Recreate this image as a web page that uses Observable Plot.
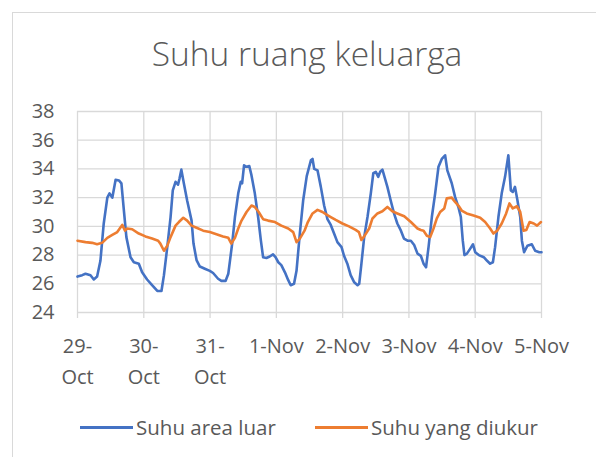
<!DOCTYPE html>
<html>
<head>
<meta charset="utf-8">
<script src="https://cdn.jsdelivr.net/npm/d3@7"></script>
<script src="https://cdn.jsdelivr.net/npm/@observablehq/plot@0.6"></script>
<style>
  body { margin: 0; background: #fff; font-family: "Open Sans", sans-serif; color: #595959; }
  #wrap { position: relative; width: 596px; height: 457px; overflow: hidden; background: #fff; }
  #frame { position: absolute; left: 12px; top: 12px; width: 700px; height: 600px;
           border-left: 1px solid #d9d9d9; border-top: 1px solid #d9d9d9; box-sizing: border-box; }
  #title { position: absolute; left: 12px; width: 590px; top: 37px; text-align: center;
           font-size: 33.5px; line-height: 33.5px; font-weight: 300; color: #595959; white-space: nowrap; }
  #chart { position: absolute; left: 0; top: 0; }
  .leg-line { position: absolute; height: 3px; width: 53px; top: 426px; }
  .leg-text { position: absolute; top: 417px; font-size: 20.5px; line-height: 20px; color: #595959; white-space: nowrap; }
</style>
</head>
<body>
<div id="wrap">
  <div id="frame"></div>
  <div id="title"></div>
  <div id="chart"></div>
  <div id="legend"></div>
</div>
<script>
// ---- Data (hours since 29-Oct 00:00, temperature °C) ----
const titleText = "Suhu ruang keluarga";
const seriesNames = ["Suhu area luar", "Suhu yang diukur"];
const seriesColors = ["#4472C4", "#ED7D31"];

const dayTicks = [0, 24, 48, 72, 96, 120, 144, 168];
const xLabels = ["29-\nOct", "30-\nOct", "31-\nOct", "1-Nov", "2-Nov", "3-Nov", "4-Nov", "5-Nov"];
const yTicks = [24, 26, 28, 30, 32, 34, 36, 38];

const luarHours = [0,1.7,2.9,4.7,5.9,7.1,8.3,9.5,10.8,11.6,12.6,13.8,15.0,15.9,16.8,17.7,19.2,20.4,22.2,23.4,
  25.2,27.0,28.9,30.4,31.3,32.5,33.7,34.5,35.5,36.4,36.9,37.6,38.5,39.7,41.3,42.0,43.1,44.3,46.1,47.9,
  49.1,50.9,52.1,53.6,54.6,55.2,56.0,57.0,58.2,59.1,59.6,60.3,61.2,62.2,63.0,64.2,65.4,66.4,67.2,68.4,
  69.6,70.8,71.7,72.7,73.8,75.1,76.3,77.2,78.4,79.3,80.5,81.7,83.0,84.5,85.1,85.7,86.9,88.1,89.3,90.5,
  91.7,92.9,94.1,95.6,96.5,97.7,98.9,100.2,101.4,102.0,102.8,103.8,105.0,106.2,107.1,108.0,108.9,109.6,110.4,111.0,
  112.2,113.4,114.6,115.8,117.1,118.2,119.5,120.7,121.9,123.1,124.3,125.3,126.2,127.1,128.3,129.5,130.7,131.9,133.1,133.9,
  135.5,136.7,137.9,138.8,139.5,140.1,141.0,142.2,143.2,144.0,145.3,147.1,148.3,149.4,150.4,151.2,152.4,153.6,154.8,156.0,
  156.9,157.6,158.4,159.3,160.3,160.9,161.7,162.9,164.5,165.7,167.2,168.0];
const luarTemps = [26.5,26.6,26.7,26.6,26.3,26.5,27.6,30.2,32.0,32.3,32.0,33.25,33.2,33.0,31.1,29.25,27.85,27.5,27.4,26.8,
  26.3,25.9,25.5,25.5,26.6,28.55,30.65,32.5,33.1,32.9,33.3,33.95,33.0,31.8,30.4,28.8,27.65,27.2,27.05,26.9,
  26.75,26.35,26.2,26.2,26.7,27.6,28.8,30.65,32.3,33.1,33.0,34.25,34.15,34.2,33.55,32.3,30.65,29.0,27.85,27.8,
  27.9,28.05,27.85,27.5,27.3,26.8,26.25,25.9,26.0,26.9,29.5,31.8,33.5,34.6,34.7,34.0,33.9,32.75,31.45,30.5,
  30.1,29.5,28.9,28.55,27.95,27.4,26.6,26.1,25.9,26.0,27.4,29.25,30.65,32.3,33.7,33.8,33.45,33.8,33.95,33.55,
  32.75,31.8,30.9,30.2,29.7,29.15,29.0,29.0,28.7,28.1,27.95,27.4,27.15,28.55,30.65,32.3,34.15,34.7,34.95,33.9,
  33.0,32.05,31.35,30.65,29.0,28.0,28.1,28.45,28.75,28.2,28.0,27.85,27.6,27.4,27.5,28.55,30.65,32.3,33.45,34.95,
  32.5,32.4,32.75,31.8,30.65,29.0,28.2,28.65,28.75,28.3,28.2,28.2];

const diukurHours = [0,2.9,5.3,7.1,8.9,10.8,12.6,14.4,16.2,17.2,18.0,19.8,22.2,24.6,27.0,29.2,30.0,31.3,32.5,33.7,
  35.5,36.7,38.3,39.7,41.3,43.1,45.5,47.9,50.3,52.7,54.6,55.7,57.0,58.2,59.4,61.2,63.0,64.2,65.6,67.2,
  69.0,71.5,73.8,76.3,78.1,79.3,80.5,82.2,83.4,85.1,86.9,88.7,89.9,91.7,93.5,95.9,98.3,100.7,101.9,102.8,
  103.8,105.6,106.8,108.6,110.4,112.2,114.0,115.8,118.3,120.7,123.1,124.3,125.3,126.5,127.7,128.9,130.1,131.3,132.8,133.7,
  135.5,136.7,137.9,139.1,140.9,143.4,145.8,147.6,149.4,150.6,152.0,153.6,155.2,156.4,157.6,159.1,160.3,161.5,162.5,163.7,
  165.2,166.4,167.8];
const diukurTemps = [29.0,28.9,28.85,28.75,28.85,29.2,29.4,29.6,30.1,29.7,29.85,29.8,29.5,29.3,29.15,29.0,28.8,28.3,28.65,29.25,
  30.05,30.3,30.6,30.4,30.05,29.9,29.7,29.6,29.45,29.3,29.2,28.8,29.2,29.85,30.4,31.0,31.45,31.35,31.0,30.5,
  30.4,30.3,30.05,29.85,29.6,28.9,29.15,29.7,30.3,30.9,31.15,31.0,30.85,30.65,30.45,30.2,30.0,29.75,29.6,29.05,
  29.3,29.85,30.55,30.9,31.05,31.35,31.05,30.9,30.7,30.3,29.85,29.75,29.7,29.35,29.25,29.85,30.55,31.0,31.25,31.95,
  32.0,31.7,31.45,31.1,30.9,30.75,30.6,30.3,29.85,29.5,29.7,30.2,30.9,31.6,31.25,31.4,31.0,29.7,29.75,30.3,
  30.2,30.05,30.3];

// ---- Build tables ----
const luar = luarHours.map((h, i) => ({h, v: luarTemps[i]}));
const diukur = diukurHours.map((h, i) => ({h, v: diukurTemps[i]}));

document.getElementById("title").textContent = titleText;

const grid = "#d9d9d9";
const plot = Plot.plot({
  width: 596,
  height: 400,
  marginTop: 111,
  marginBottom: 88,
  marginLeft: 77,
  marginRight: 55,
  style: {fontFamily: "'Open Sans', sans-serif", fontSize: "20px", color: "#595959", background: "transparent", overflow: "visible"},
  x: {domain: [0, 168]},
  y: {domain: [24, 38]},
  marks: [
    Plot.gridY(yTicks, {stroke: grid, strokeOpacity: 1, strokeWidth: 1.3}),
    Plot.gridX(dayTicks, {stroke: grid, strokeOpacity: 1, strokeWidth: 1.3}),
    Plot.axisX(dayTicks, {tickSize: 6, stroke: grid, strokeWidth: 1.3, fill: "none", label: null}),
    Plot.axisX(dayTicks, {tickSize: 0, tickPadding: 18, fill: "#595959", fontSize: 20, lineHeight: 1.55,
      tickFormat: d => xLabels[dayTicks.indexOf(d)], label: null}),
    Plot.axisY(yTicks, {tickSize: 0, tickPadding: 23, fill: "#595959", fontSize: 20, label: null}),
    Plot.line(luar, {x: "h", y: "v", stroke: seriesColors[0], strokeWidth: 2.6, strokeLinejoin: "round", strokeLinecap: "round"}),
    Plot.line(diukur, {x: "h", y: "v", stroke: seriesColors[1], strokeWidth: 2.6, strokeLinejoin: "round", strokeLinecap: "round"})
  ]
});
document.getElementById("chart").appendChild(plot);

// ---- Legend ----
const legend = document.getElementById("legend");
const legLineX = [80, 315];
seriesNames.forEach((name, i) => {
  const ln = document.createElement("div");
  ln.className = "leg-line";
  ln.style.left = legLineX[i] + "px";
  ln.style.background = seriesColors[i];
  legend.appendChild(ln);
  const tx = document.createElement("div");
  tx.className = "leg-text";
  tx.style.left = (legLineX[i] + 56) + "px";
  tx.textContent = name;
  legend.appendChild(tx);
});
</script>
</body>
</html>
